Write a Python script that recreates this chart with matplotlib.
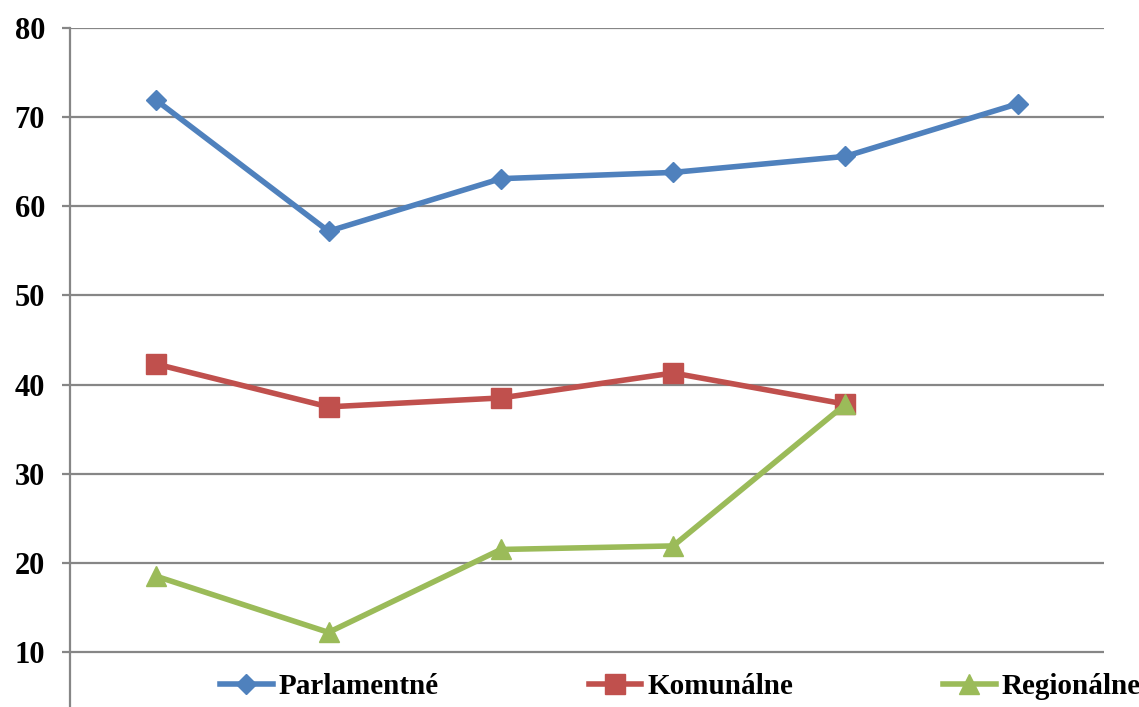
import matplotlib.pyplot as plt

categories = ["1", "2", "3", "4", "5", "6"]
parlamentne = [71.9, 57.2, 63.1, 63.8, 65.6, 71.5]
komunalne = [42.3, 37.5, 38.5, 41.3, 37.8]
regionalne = [18.5, 12.2, 21.5, 21.9, 37.8]
y_ticks = [10, 20, 30, 40, 50, 60, 70, 80]

plt.rcParams['font.family'] = ['Liberation Serif', 'DejaVu Serif']
plt.rcParams['font.weight'] = 'bold'

fig = plt.figure(figsize=(11.39, 7.07), dpi=100)
ax = fig.add_axes([70 / 1139, 0, (1104 - 70) / 1139, 1 - 28 / 707])

grid_col = '#868686'
x = list(range(len(categories)))
ax.plot(x, parlamentne, color='#4F81BD', lw=4, marker='D', ms=10,
        label='Parlamentné')
ax.plot(x[:len(komunalne)], komunalne, color='#C0504D', lw=4, marker='s', ms=14,
        label='Komunálne')
ax.plot(x[:len(regionalne)], regionalne, color='#9BBB59', lw=4, marker='^', ms=14,
        label='Regionálne')

ax.set_xlim(-0.5, len(categories) - 0.5)
ax.set_ylim(3.83, 80)
ax.set_yticks(y_ticks)
ax.set_xticks([])
ax.yaxis.grid(True, color=grid_col, lw=1.6)
ax.set_axisbelow(True)
for s in ['top', 'right', 'bottom']:
    ax.spines[s].set_visible(False)
ax.spines['left'].set_color(grid_col)
ax.spines['left'].set_linewidth(1.6)
ax.tick_params(axis='y', direction='out', length=6, width=1.6, color=grid_col,
               labelsize=22, pad=12)
for lbl in ax.get_yticklabels():
    lbl.set_fontweight('bold')

fig.legend(loc='center left', bbox_to_anchor=(220 / 1139, 1 - 687 / 707),
           ncol=3, frameon=False, borderpad=0, borderaxespad=0,
           handlelength=1.8, handletextpad=0.2, columnspacing=5.15,
           prop={'weight': 'bold', 'size': 21})

fig.savefig('out.png', dpi=100)
